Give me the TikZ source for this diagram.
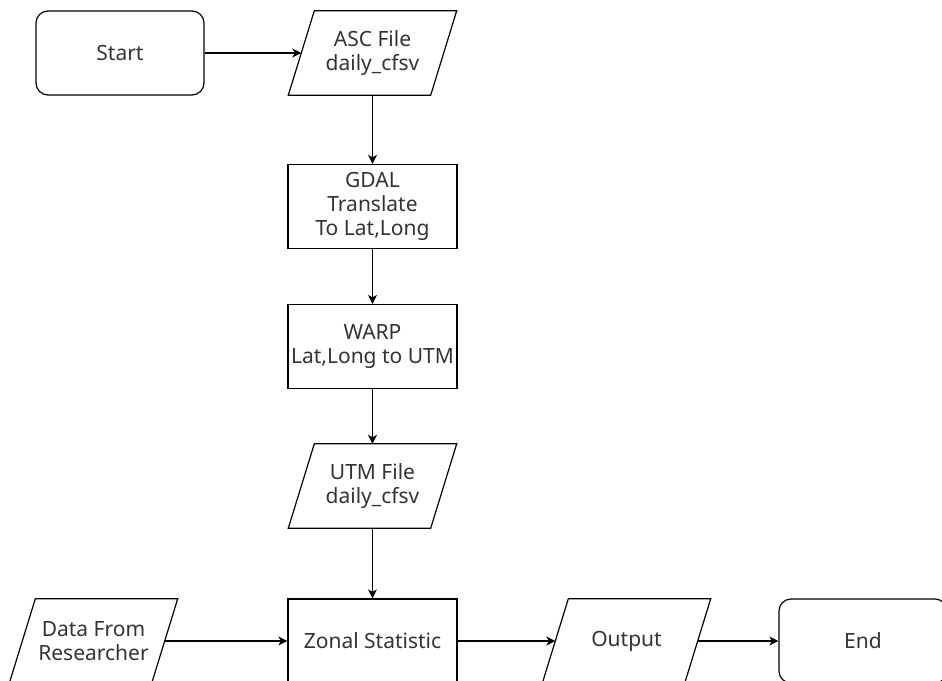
\documentclass[tikz,border=0pt]{standalone}
\usepackage{fontspec}
\setmainfont{Noto Sans}
\usetikzlibrary{arrows.meta}
\begin{document}
\begin{tikzpicture}[x=1pt,y=-1pt,
  base/.style={align=center, font=\fontsize{21}{24}\selectfont, text=black!80, inner sep=0pt},
  term/.style={base, draw, rounded corners=12pt, minimum width=168pt, minimum height=84pt, line width=1.2pt},
  proc/.style={base, draw, minimum width=169pt, minimum height=84pt, line width=1.2pt},
  io/.style={base, minimum width=142pt, minimum height=84pt},
  iobox/.style={draw, line width=1.2pt, line join=miter},
  arr/.style={-{Stealth[length=9pt,width=9pt,inset=2.5pt]}, line width=1.2pt}
]
\useasboundingbox (0,0) rectangle (942,680);
\clip (0,0) rectangle (942,680);

\node[term] (start) at (120,53) {Start};
\node[io]   (asc)   at (372.5,53) {ASC File\\daily\_cfsv};
\node[proc] (gdal)  at (372.5,206.5) {GDAL\\Translate\\To Lat,Long};
\node[proc] (warp)  at (372.5,346.5) {WARP\\Lat,Long to UTM};
\node[io]   (utm)   at (372.5,486) {UTM File\\daily\_cfsv};
\node[proc] (zonal) at (372.5,641) {Zonal Statistic};
\node[io]   (data)  at (93.5,641) {Data From\\Researcher};
\node[io]   (out)   at (626.5,641) {Output};
\node[term] (end)   at (863,641) {End};

\foreach \n in {asc,utm,data,out}{
  \draw[iobox] ([xshift=13pt]\n.north west) -- ([xshift=13pt]\n.north east)
    -- ([xshift=-13pt]\n.south east) -- ([xshift=-13pt]\n.south west) -- cycle;
}

\draw[arr] (start) -- (asc);
\draw[arr] (asc) -- (gdal);
\draw[arr] (gdal) -- (warp);
\draw[arr] (warp) -- (utm);
\draw[arr] (utm) -- (zonal);
\draw[arr] (data) -- (zonal);
\draw[arr] (zonal) -- (out);
\draw[arr] (out) -- (end);
\end{tikzpicture}
\end{document}
